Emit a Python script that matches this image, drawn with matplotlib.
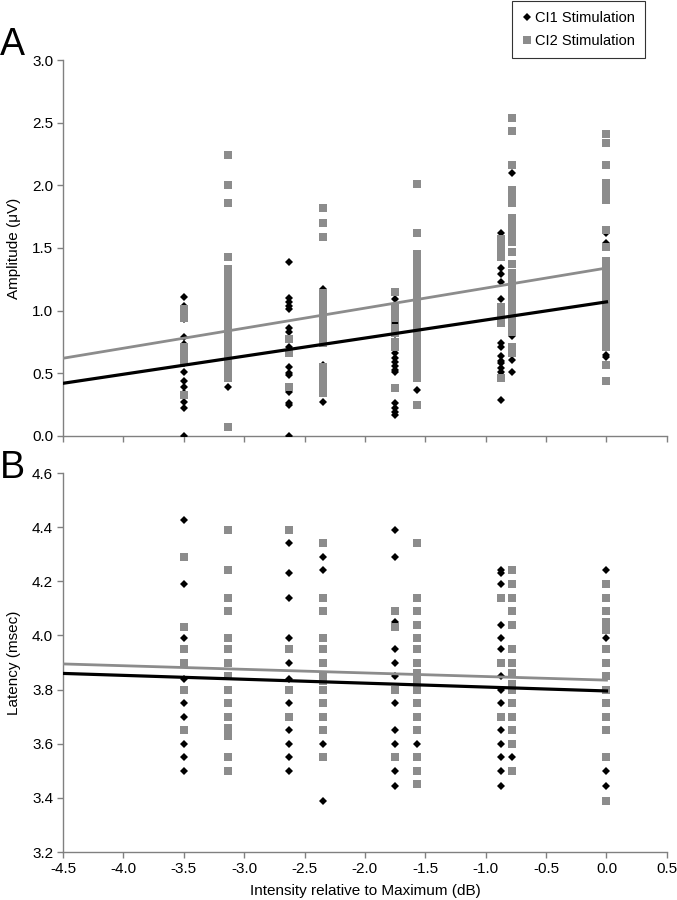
import matplotlib.pyplot as plt
import numpy as np

plt.rcParams['font.family'] = ['Liberation Sans', 'DejaVu Sans']

# x positions (dB re maximum) where the points sit
x_levels = [-3.5, -3.13, -2.625, -2.35, -1.75, -1.57, -0.875, -0.78, 0.0]

# amplitude (uV), one list per x level
amp_ci1 = [
    [1.11, 1.04, 1.01, 0.93, 0.79, 0.73, 0.69, 0.61, 0.58, 0.51, 0.44, 0.39, 0.34, 0.27, 0.22, 0.0],
    [0.89, 0.39],
    [1.39, 1.10, 1.07, 1.04, 1.01, 0.86, 0.83, 0.71, 0.55, 0.50, 0.49, 0.35, 0.26, 0.25, 0.0],
    [1.17, 0.57, 0.27],
    [1.09, 0.93, 0.90, 0.87, 0.81, 0.66, 0.62, 0.59, 0.56, 0.53, 0.51, 0.26, 0.22, 0.19, 0.17],
    [1.19, 0.63, 0.50, 0.37],
    [1.62, 1.53, 1.49, 1.34, 1.29, 1.23, 1.09, 1.03, 0.95, 0.74, 0.71, 0.64, 0.60, 0.58, 0.54, 0.51, 0.49, 0.29],
    [2.10, 1.62, 1.17, 0.95, 0.80, 0.61, 0.51],
    [1.62, 1.54, 1.03, 1.00, 0.98, 0.82, 0.65, 0.63],
]
amp_ci2 = [
    [1.01, 0.97, 0.94, 0.71, 0.68, 0.62, 0.59, 0.33],
    [2.24, 2.00, 1.86, 1.43, 1.33, 1.29, 1.25, 1.22, 1.19, 1.16, 1.13, 1.10, 1.07, 1.04, 1.01, 0.98,
     0.92, 0.89, 0.85, 0.81, 0.77, 0.74, 0.71, 0.67, 0.63, 0.60, 0.57, 0.53, 0.50, 0.46, 0.075],
    [0.77, 0.66, 0.39],
    [1.82, 1.70, 1.59, 1.14, 1.10, 1.06, 1.02, 0.98, 0.94, 0.90, 0.86, 0.82, 0.78, 0.74, 0.55, 0.53,
     0.46, 0.42, 0.38, 0.34],
    [1.15, 1.02, 0.98, 0.94, 0.86, 0.82, 0.75, 0.71, 0.38],
    [2.01, 1.62, 1.45, 1.40, 1.35, 1.30, 1.24, 1.19, 1.14, 1.11, 1.07, 1.03, 0.99, 0.95, 0.91, 0.87,
     0.83, 0.79, 0.75, 0.71, 0.66, 0.63, 0.59, 0.55, 0.50, 0.46, 0.25],
    [1.57, 1.51, 1.47, 1.43, 1.03, 0.99, 0.95, 0.90, 0.46],
    [2.54, 2.43, 2.16, 1.96, 1.91, 1.86, 1.74, 1.70, 1.66, 1.62, 1.58, 1.55, 1.47, 1.37, 1.30, 1.26,
     1.22, 1.17, 1.13, 1.09, 1.05, 1.01, 0.97, 0.93, 0.89, 0.85, 0.83, 0.71, 0.66],
    [2.41, 2.34, 2.16, 2.02, 1.97, 1.92, 1.88, 1.64, 1.51, 1.40, 1.34, 1.30, 1.26, 1.22, 1.18, 1.14,
     1.10, 1.06, 1.02, 0.98, 0.94, 0.90, 0.86, 0.82, 0.78, 0.75, 0.71, 0.57, 0.44],
]

# latency (msec), one list per x level
lat_ci1 = [
    [4.425, 4.19, 3.99, 3.84, 3.75, 3.70, 3.60, 3.55, 3.50],
    [],
    [4.34, 4.23, 4.14, 3.99, 3.90, 3.84, 3.75, 3.65, 3.60, 3.55, 3.50],
    [4.29, 4.24, 3.60, 3.39],
    [4.39, 4.29, 4.05, 3.95, 3.90, 3.85, 3.75, 3.65, 3.60, 3.50, 3.445],
    [3.60],
    [4.24, 4.23, 4.19, 4.04, 3.99, 3.95, 3.85, 3.80, 3.75, 3.65, 3.60, 3.55, 3.50, 3.445],
    [3.55],
    [4.24, 3.99, 3.50, 3.445],
]
lat_ci2 = [
    [4.29, 4.03, 3.95, 3.90, 3.80, 3.65],
    [4.39, 4.24, 4.14, 4.09, 3.99, 3.95, 3.90, 3.85, 3.80, 3.75, 3.70, 3.66, 3.63, 3.55, 3.50],
    [4.39, 3.95, 3.80, 3.70],
    [4.34, 4.14, 4.09, 3.99, 3.95, 3.90, 3.85, 3.83, 3.80, 3.75, 3.70, 3.65, 3.55],
    [4.09, 4.03, 3.80, 3.55],
    [4.34, 4.14, 4.09, 4.04, 3.99, 3.95, 3.90, 3.86, 3.83, 3.80, 3.75, 3.70, 3.65, 3.55, 3.50, 3.45],
    [4.14, 3.90, 3.70],
    [4.24, 4.19, 4.14, 4.09, 4.04, 3.95, 3.90, 3.86, 3.82, 3.80, 3.75, 3.70, 3.65, 3.60, 3.50],
    [4.19, 4.14, 4.09, 4.05, 4.02, 3.95, 3.90, 3.85, 3.80, 3.75, 3.70, 3.65, 3.55, 3.39],
]

# linear trend lines: (slope, intercept at 0 dB)
amp_fit_ci1 = (0.1444, 1.07)
amp_fit_ci2 = (0.16, 1.34)
lat_fit_ci1 = (-0.0144, 3.795)
lat_fit_ci2 = (-0.0133, 3.835)

GRAY = '#8c8c8c'
AXC = '#808080'


def flat(levels, groups):
    xs, ys = [], []
    for x, g in zip(levels, groups):
        xs += [x] * len(g)
        ys += g
    return xs, ys


def style(ax, ymin, ymax, step, labels_x):
    ax.set_xlim(-4.5, 0.5)
    ax.set_ylim(ymin, ymax)
    ax.set_xticks(np.arange(-4.5, 0.51, 0.5))
    ax.set_yticks(np.arange(ymin, ymax + step / 2, step))
    ax.yaxis.set_major_formatter(plt.FormatStrFormatter('%.1f'))
    ax.xaxis.set_major_formatter(plt.FormatStrFormatter('%.1f'))
    for s in ['top', 'right']:
        ax.spines[s].set_visible(False)
    for s in ['left', 'bottom']:
        ax.spines[s].set_color(AXC)
        ax.spines[s].set_linewidth(1.0)
    ax.tick_params(direction='out', length=4, width=1, color=AXC,
                   labelsize=11, pad=3)
    if not labels_x:
        ax.tick_params(axis='x', labelbottom=False)


fig = plt.figure(figsize=(6.77, 9.0), dpi=100)
ax1 = fig.add_axes([0.093, 0.5156, 0.892, 0.4177])
ax2 = fig.add_axes([0.093, 0.0533, 0.892, 0.4211])

xl = np.array([-4.5, 0.0])

# panel A
x, y = flat(x_levels, amp_ci1)
ax1.plot(x, y, 'D', color='black', ms=4.5, mew=0, label='CI1 Stimulation', zorder=3)
x, y = flat(x_levels, amp_ci2)
ax1.plot(x, y, 's', color=GRAY, ms=5.5, mew=0, label='CI2 Stimulation', zorder=3)
ax1.plot(xl, amp_fit_ci1[0] * xl + amp_fit_ci1[1], color='black', lw=2.3, zorder=4)
ax1.plot(xl, amp_fit_ci2[0] * xl + amp_fit_ci2[1], color=GRAY, lw=2.0, zorder=4)
style(ax1, 0.0, 3.0, 0.5, False)
ax1.set_ylabel('Amplitude (\u03bcV)', fontsize=11, labelpad=8)

# panel B
x, y = flat(x_levels, lat_ci1)
ax2.plot(x, y, 'D', color='black', ms=4.5, mew=0, zorder=3)
x, y = flat(x_levels, lat_ci2)
ax2.plot(x, y, 's', color=GRAY, ms=5.5, mew=0, zorder=3)
ax2.plot(xl, lat_fit_ci1[0] * xl + lat_fit_ci1[1], color='black', lw=2.3, zorder=4)
ax2.plot(xl, lat_fit_ci2[0] * xl + lat_fit_ci2[1], color=GRAY, lw=2.0, zorder=4)
style(ax2, 3.2, 4.6, 0.2, True)
ax2.set_ylabel('Latency (msec)', fontsize=11, labelpad=8)
ax2.set_xlabel('Intensity relative to Maximum (dB)', fontsize=11, labelpad=6)

fig.text(0.0, 1 - 55 / 900, 'A', fontsize=27, va='baseline', ha='left')
fig.text(0.0, 1 - 478 / 900, 'B', fontsize=27, va='baseline', ha='left')

leg = fig.legend(loc='upper left', bbox_to_anchor=(512 / 677, 1 - 1 / 900),
                 frameon=True, fancybox=False, edgecolor='black', fontsize=10.5,
                 handlelength=0.6, handletextpad=0.3, borderpad=0.7,
                 labelspacing=0.6, borderaxespad=0)
leg.get_frame().set_linewidth(0.8)

fig.savefig('out.png', dpi=100)
